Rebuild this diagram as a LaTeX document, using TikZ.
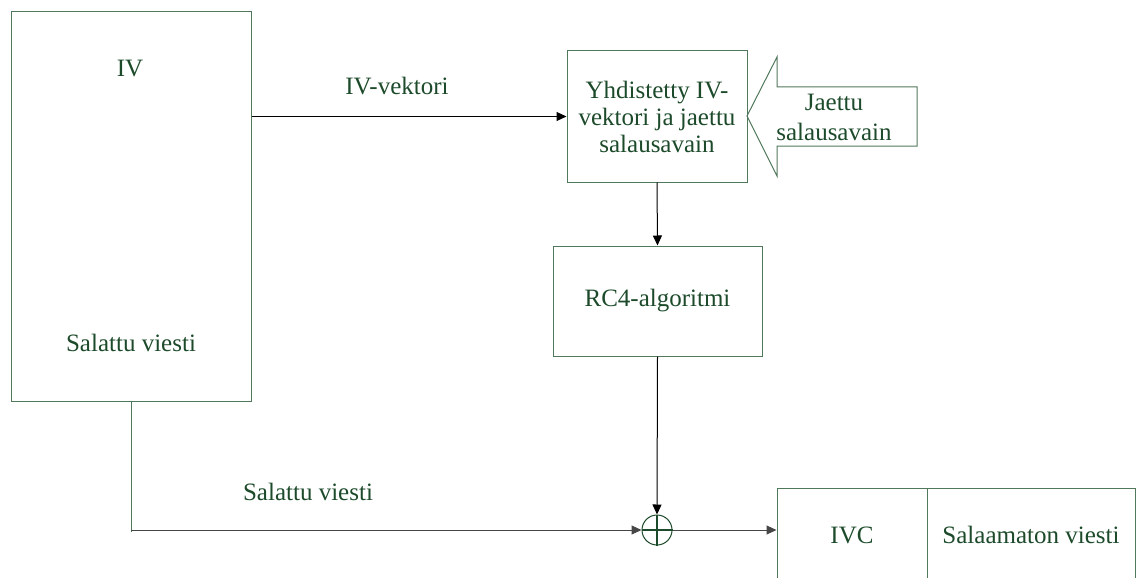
\documentclass[tikz,border=0pt]{standalone}
\usepackage{fontspec}
\setmainfont{Liberation Serif}
\usetikzlibrary{arrows.meta}
\definecolor{txtgreen}{RGB}{28,74,42}
\definecolor{boxgreen}{RGB}{80,120,90}
\definecolor{linegray}{RGB}{70,70,70}
\begin{document}
\begin{tikzpicture}[x=1pt,y=-1pt,
  every node/.style={text=txtgreen,font=\fontsize{25}{27}\selectfont},
  blk/.style={draw=boxgreen,line width=1pt,inner sep=0pt},
  lbl/.style={inner sep=0pt},
  arr/.style={draw=black,line width=1pt,-{Triangle[length=10pt,width=9pt]}},
  ln/.style={draw=linegray,line width=1pt}]
\clip (0,0) rectangle (1141,578);
\useasboundingbox (0,0) rectangle (1141,578);
% boxes
\node[blk,minimum width=240pt,minimum height=389pt] (ivbox) at (131,206.5) {};
\node[lbl] (ivtxt) at (130,69) {IV};
\node[lbl] (saltxt) at (131,343) {Salattu viesti};
\node[blk,minimum width=180pt,minimum height=131pt,align=center] (combo) at (657,116.5) {Yhdistetty IV-\\vektori ja jaettu\\salausavain};
\node[blk,minimum width=209pt,minimum height=110pt] (rc4) at (657.5,301) {RC4-algoritmi};
\node[draw=txtgreen,line width=1pt,circle,minimum size=30pt,inner sep=0pt] (xor) at (657,530) {};
\draw[txtgreen,line width=2pt] (xor.north) -- (xor.south) (xor.west) -- (xor.east);
\node[blk,minimum width=150pt,minimum height=94pt] (ivc) at (852,535) {IVC};
\node[blk,minimum width=208pt,minimum height=94pt] (plain) at (1031,535) {Salaamaton viesti};
% big arrow
\draw[boxgreen,line width=1pt] (747,116) -- (777,57) -- (777,87) -- (917,87) -- (917,146) -- (777,146) -- (777,176) -- cycle;
\node[lbl,align=center,font=\fontsize{25}{30}\selectfont] (keytxt) at (834,117) {Jaettu\\salausavain};
% connectors
\draw[arr] (combo.west -| ivbox.east) -- (combo.west);
\node[lbl] (ivvlbl) at (397,86) {IV-vektori};
\draw[arr] (combo.south) -- (rc4.north);
\draw[arr] (rc4.south) -- (xor.north);
\draw[ln,boxgreen] (ivbox.south) -- ([yshift=-2pt]ivbox.south |- xor.west);
\draw[arr,draw=linegray] (ivbox.south |- xor.west) -- (xor.west);
\node[lbl] (sallbl) at (308,492) {Salattu viesti};
\draw[arr,draw=linegray] (xor.east) -- (xor.east -| ivc.west);
\end{tikzpicture}
\end{document}
